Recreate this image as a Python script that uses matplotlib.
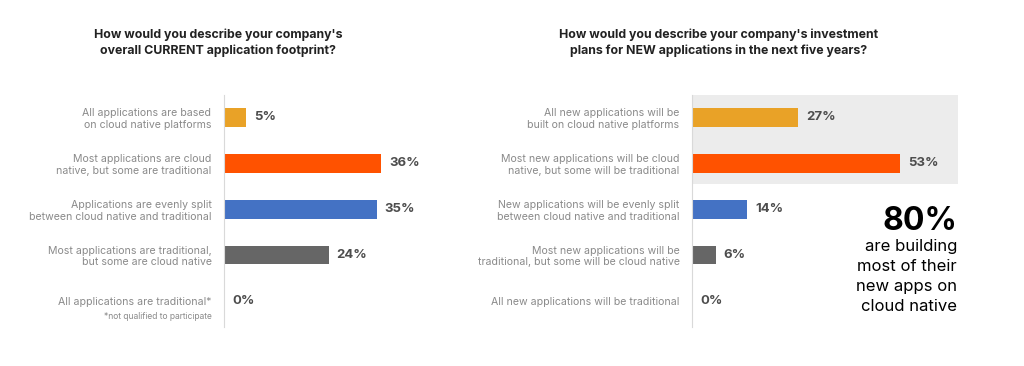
import matplotlib.pyplot as plt

plt.rcParams['font.family'] = ['Inter', 'DejaVu Sans']

current_labels = [
    "All applications are based\non cloud native platforms",
    "Most applications are cloud\nnative, but some are traditional",
    "Applications are evenly split\nbetween cloud native and traditional",
    "Most applications are traditional,\nbut some are cloud native",
    "All applications are traditional*",
]
current_values = [5, 36, 35, 24, 0]

new_labels = [
    "All new applications will be\nbuilt on cloud native platforms",
    "Most new applications will be cloud\nnative, but some will be traditional",
    "New applications will be evenly split\nbetween cloud native and traditional",
    "Most new applications will be\ntraditional, but some will be cloud native",
    "All new applications will be traditional",
]
new_values = [27, 53, 14, 6, 0]

colors = ["#E9A227", "#FF5200", "#4472C4", "#666666", "#666666"]

W, H = 1024, 366
fig = plt.figure(figsize=(W / 100, H / 100), dpi=100)


def px_axes(x0, x1, y0, y1):
    return fig.add_axes([x0 / W, 1 - y1 / H, (x1 - x0) / W, (y1 - y0) / H])


def style(ax, labels, values, xmax):
    y = range(len(values))
    ax.barh(y, values, height=0.41, color=colors, zorder=2)
    for i, v in enumerate(values):
        ax.annotate(f"{v}%", xy=(v, i), xytext=(8, 0), textcoords="offset pixels",
                    va="center", ha="left", fontsize=9.5, fontweight="bold", color="#4d4d4d")
    ax.set_xlim(0, xmax)
    ax.set_ylim(4.57, -0.49)
    ax.set_yticks(list(y))
    ax.set_yticklabels(labels, fontsize=7.6, color="#8a8a8a", linespacing=1.18)
    ax.tick_params(axis="y", length=0, pad=9)
    ax.set_xticks([])
    for s in ["top", "right", "bottom"]:
        ax.spines[s].set_visible(False)
    ax.spines["left"].set_color("#d9d9d9")
    ax.spines["left"].set_linewidth(0.8)
    ax.patch.set_alpha(0)


ax1 = px_axes(224, 440, 95, 327)
style(ax1, current_labels, current_values, 216 / 4.36)
ax1.annotate("*not qualified to participate", xy=(0, 4), xycoords=("axes fraction", "data"),
             xytext=(-12, -16), textcoords="offset pixels", ha="right", va="center",
             fontsize=6.1, color="#8a8a8a")

ax2 = px_axes(692, 958, 95, 327)
ax2.axhspan(-0.49, 1.45, color="#ececec", zorder=0, lw=0)
style(ax2, new_labels, new_values, 266 / 3.92)

fig.text(218 / W, 1 - 43 / H, "How would you describe your company's\noverall CURRENT application footprint?",
         ha="center", va="center", fontsize=8.9, fontweight="bold", color="#222222", linespacing=1.4)
fig.text(719 / W, 1 - 43 / H, "How would you describe your company's investment\nplans for NEW applications in the next five years?",
         ha="center", va="center", fontsize=8.9, fontweight="bold", color="#222222", linespacing=1.4)

fig.text(957 / W, 1 - 221 / H, "80%", ha="right", va="center", fontsize=23, fontweight="bold", color="black")
fig.text(957 / W, 1 - 239 / H, "are building\nmost of their\nnew apps on\ncloud native", ha="right", va="top",
         fontsize=12, color="black", linespacing=1.42, multialignment="right")

fig.savefig("out.png", dpi=100)
